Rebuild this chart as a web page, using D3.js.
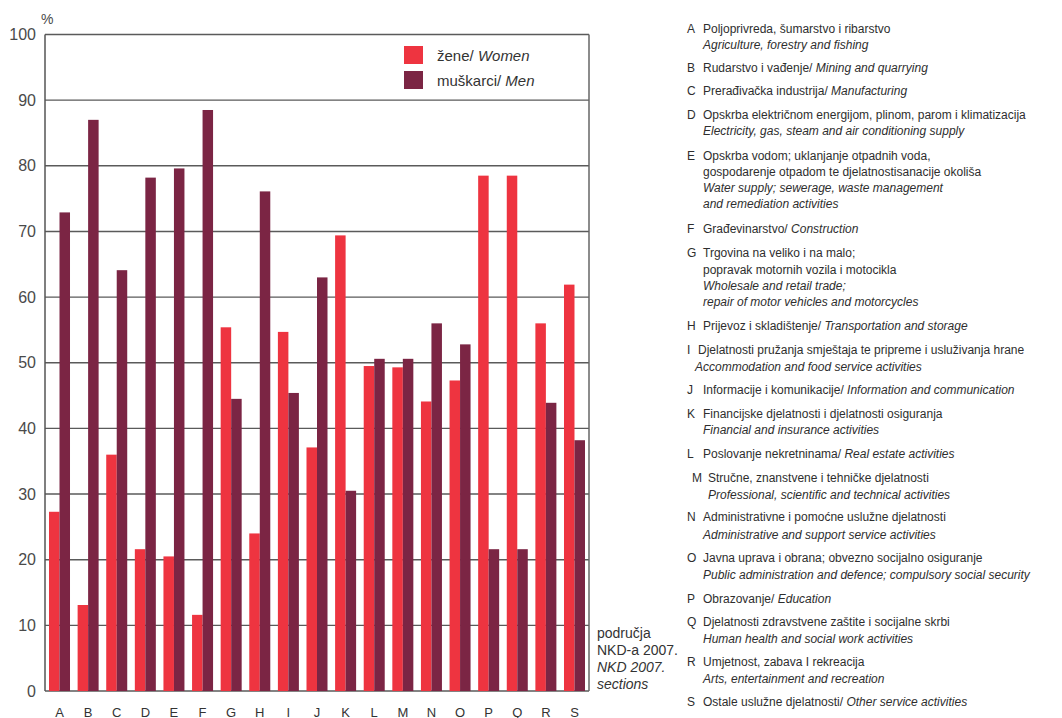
<!DOCTYPE html>
<html><head><meta charset="utf-8">
<script src="https://cdn.jsdelivr.net/npm/d3@7"></script>
<style>body{margin:0;background:#fff}svg{display:block}text{font-family:"Liberation Sans",Arial,sans-serif}</style>
</head><body>
<svg id="c" width="1062" height="718"></svg>
<script>
const categories = ["A","B","C","D","E","F","G","H","I","J","K","L","M","N","O","P","Q","R","S"];
const women = [27.3,13.1,36.0,21.6,20.5,11.6,55.4,24.0,54.7,37.1,69.4,49.5,49.3,44.1,47.3,78.5,78.5,56.0,61.9];
const men   = [72.9,87.0,64.1,78.2,79.6,88.5,44.5,76.1,45.4,63.0,30.5,50.6,50.6,56.0,52.8,21.6,21.6,43.9,38.2];
const yTicks = [0,10,20,30,40,50,60,70,80,90,100];
const seriesNames = [["žene/ ","Women"],["muškarci/ ","Men"]];
const axisNote = [["područja",false],["NKD-a 2007.",false],["NKD 2007.",true],["sections",true]];
const descriptions = [
 ["A",[[["Poljoprivreda, šumarstvo i ribarstvo",0]],[["Agriculture, forestry and fishing",1]]]],
 ["B",[[["Rudarstvo i vađenje/ ",0],["Mining and quarrying",1]]]],
 ["C",[[["Prerađivačka industrija/ ",0],["Manufacturing",1]]]],
 ["D",[[["Opskrba električnom energijom, plinom, parom i klimatizacija",0]],[["Electricity, gas, steam and air conditioning supply",1]]]],
 ["E",[[["Opskrba vodom; uklanjanje otpadnih voda,",0]],[["gospodarenje otpadom te djelatnostisanacije okoliša",0]],[["Water supply; sewerage, waste management",1]],[["and remediation activities",1]]]],
 ["F",[[["Građevinarstvo/ ",0],["Construction",1]]]],
 ["G",[[["Trgovina na veliko i na malo;",0]],[["popravak motornih vozila i motocikla",0]],[["Wholesale and retail trade;",1]],[["repair of motor vehicles and motorcycles",1]]]],
 ["H",[[["Prijevoz i skladištenje/ ",0],["Transportation and storage",1]]]],
 ["I",[[["Djelatnosti pružanja smještaja te pripreme i usluživanja hrane",0]],[["Accommodation and food service activities",1]]]],
 ["J",[[["Informacije i komunikacije/ ",0],["Information and communication",1]]]],
 ["K",[[["Financijske djelatnosti i djelatnosti osiguranja",0]],[["Financial and insurance activities",1]]]],
 ["L",[[["Poslovanje nekretninama/ ",0],["Real estate activities",1]]]],
 ["M",[[["Stručne, znanstvene i tehničke djelatnosti",0]],[["Professional, scientific and technical activities",1]]]],
 ["N",[[["Administrativne i pomoćne uslužne djelatnosti",0]],[["Administrative and support service activities",1]]]],
 ["O",[[["Javna uprava i obrana; obvezno socijalno osiguranje",0]],[["Public administration and defence; compulsory social security",1]]]],
 ["P",[[["Obrazovanje/ ",0],["Education",1]]]],
 ["Q",[[["Djelatnosti zdravstvene zaštite i socijalne skrbi",0]],[["Human health and social work activities",1]]]],
 ["R",[[["Umjetnost, zabava I rekreacija",0]],[["Arts, entertainment and recreation",1]]]],
 ["S",[[["Ostale uslužne djelatnosti/ ",0],["Other service activities",1]]]]
];

const colors = ["#ee3440","#7b2544"];
const svg = d3.select("#c");
const L=45,R=589,T=34.5,B=691;
const y = d3.scaleLinear().domain([0,100]).range([B,T]);
const x = d3.scaleBand().domain(categories).range([L,R]).paddingInner(0.266).paddingOuter(0.14);
const xs = d3.scaleBand().domain([0,1]).range([0,x.bandwidth()]);

// grid
svg.append("g").selectAll("line").data(yTicks).join("line")
  .attr("x1",L).attr("x2",R).attr("y1",d=>y(d)).attr("y2",d=>y(d))
  .attr("stroke","#5a5a5a").attr("stroke-width",1.4);
svg.append("line").attr("x1",L).attr("x2",L).attr("y1",T).attr("y2",B).attr("stroke","#555").attr("stroke-width",1.5);
svg.append("line").attr("x1",R).attr("x2",R).attr("y1",T).attr("y2",B).attr("stroke","#666").attr("stroke-width",1.5);

// y labels
const ya = svg.append("g").attr("transform",`translate(${L},0)`)
  .call(d3.axisLeft(y).tickValues(yTicks).tickSize(0).tickPadding(9));
ya.select(".domain").remove();
ya.selectAll("text").attr("font-size",16).attr("fill","#4a4a4a").attr("font-family","Liberation Sans, Arial, sans-serif");
svg.append("text").attr("x",41).attr("y",24).attr("font-size",14).attr("fill","#4a4a4a").text("%");

// bars
const g = svg.append("g");
categories.forEach((c,i)=>{
  [women[i],men[i]].forEach((v,s)=>{
    g.append("rect").attr("x",x(c)+xs(s)).attr("width",xs.bandwidth())
     .attr("y",y(v)).attr("height",y(0)-y(v)).attr("fill",colors[s]);
  });
});

// x labels
const xa = svg.append("g").attr("transform",`translate(0,${B})`)
  .call(d3.axisBottom(x).tickSize(0).tickPadding(0));
xa.select(".domain").remove();
xa.selectAll("text").attr("dy",null).attr("y",25.5).attr("font-size",13).attr("fill","#333").attr("font-family","Liberation Sans, Arial, sans-serif");

// legend
seriesNames.forEach((n,i)=>{
  svg.append("rect").attr("x",404).attr("y",46+i*25).attr("width",19).attr("height",18).attr("fill",colors[i]);
  const t = svg.append("text").attr("x",437).attr("y",61+i*25).attr("font-size",15).attr("fill","#333");
  t.append("tspan").text(n[0]);
  t.append("tspan").attr("font-style","italic").text(n[1]);
});

// axis note
axisNote.forEach((n,i)=>{
  svg.append("text").attr("x",597).attr("y",638+i*17).attr("font-size",14).attr("fill","#333")
    .attr("font-style",n[1]?"italic":"normal").text(n[0]);
});

// descriptions
const lineY = {A:[33,49],B:[72],C:[95],D:[119,135],E:[160,176,192,208],F:[233],G:[257,274,290,306],H:[330],
  I:[354,371],J:[394],K:[418,434],L:[458],M:[481.5,498.5],N:[521,538.5],O:[562,578.5],P:[602.5],Q:[626,642.5],R:[666,683],S:[706]};
const off = {I:[-5,-8],M:[5,5]};
const dg = svg.append("g").attr("font-size",12).attr("fill","#2e2e2e");
descriptions.forEach(([k,lines])=>{
  const ys = lineY[k];
  const o = off[k]||[0,0];
  dg.append("text").attr("x",687+(k==="M"?5:0)).attr("y",ys[0]).text(k);
  lines.forEach((segs,j)=>{
    const t = dg.append("text").attr("x",703+(j===0?o[0]:o[1])).attr("y",ys[j]);
    segs.forEach(s=>t.append("tspan").attr("font-style",s[1]?"italic":"normal").text(s[0]));
    const w = t.node().getComputedTextLength();
    const xx = +t.attr("x");
    if (xx+w>1059) t.attr("textLength",1059-xx).attr("lengthAdjust","spacingAndGlyphs");
  });
});
</script>
</body></html>
